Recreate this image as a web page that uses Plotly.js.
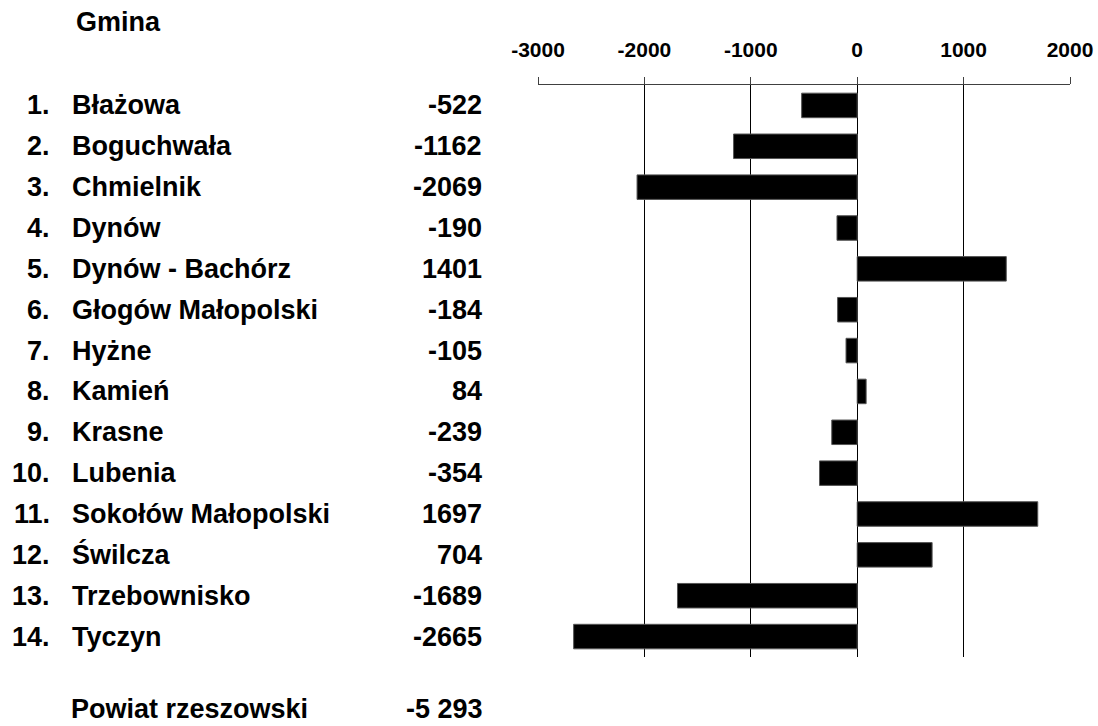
<!DOCTYPE html>
<html>
<head>
<meta charset="utf-8">
<script src="https://cdn.plot.ly/plotly-3.0.1.min.js"></script>
<style>html,body{margin:0;padding:0;background:#fff;}#chart{width:1098px;height:726px;}</style>
</head>
<body>
<div id="chart"></div>
<script>
const ranks = ["1.", "2.", "3.", "4.", "5.", "6.", "7.", "8.", "9.", "10.", "11.", "12.", "13.", "14."];
const gminy = ["Błażowa", "Boguchwała", "Chmielnik", "Dynów", "Dynów - Bachórz", "Głogów Małopolski",
  "Hyżne", "Kamień", "Krasne", "Lubenia", "Sokołów Małopolski", "Świlcza", "Trzebownisko", "Tyczyn"];
const values = [-522, -1162, -2069, -190, 1401, -184, -105, 84, -239, -354, 1697, 704, -1689, -2665];
const headerLabel = "Gmina";
const totalLabel = "Powiat rzeszowski";
const totalValue = "-5 293";
const tickVals = [-3000, -2000, -1000, 0, 1000, 2000];
const gridVals = [-2000, -1000, 0, 1000];

const font = {family: "Liberation Sans, Arial, sans-serif", size: 27, color: "#000", weight: "bold"};
const W = 532, L = 538, H = 572, T = 85;
const px = p => (p - L) / W;
const py = p => (T + H - p) / H;

const annotations = [];
gminy.forEach((g, i) => {
  annotations.push({xref: "paper", yref: "y", x: px(52), y: g, text: ranks[i], showarrow: false, xanchor: "right", yanchor: "middle", font});
  annotations.push({xref: "paper", yref: "y", x: px(70), y: g, text: g, showarrow: false, xanchor: "left", yanchor: "middle", font});
  annotations.push({xref: "paper", yref: "y", x: px(484), y: g, text: String(values[i]), showarrow: false, xanchor: "right", yanchor: "middle", font});
});
annotations.push({xref: "paper", yref: "paper", x: px(74), y: py(22), text: headerLabel, showarrow: false, xanchor: "left", yanchor: "middle", font});
annotations.push({xref: "paper", yref: "paper", x: px(70), y: py(709), text: totalLabel, showarrow: false, xanchor: "left", yanchor: "middle", font, borderpad: 0});
annotations.push({xref: "paper", yref: "paper", x: px(484), y: py(709), text: totalValue, showarrow: false, xanchor: "right", yanchor: "middle", font, borderpad: 0});

const data = [{
  type: "bar", orientation: "h", x: values, y: gminy,
  marker: {color: "#000", line: {color: "#555", width: 1}},
  width: 0.6, hoverinfo: "skip"
}, {
  type: "scatter", mode: "none", x: [null], y: [null], xaxis: "x2", hoverinfo: "skip", showlegend: false
}];

const layout = {
  width: 1098, height: 726,
  margin: {l: L, r: 1098 - L - W, t: T, b: 726 - T - H},
  paper_bgcolor: "#fff", plot_bgcolor: "#fff",
  showlegend: false,
  bargap: 0.4,
  xaxis: {
    side: "top", range: [-3000, 2000], tickvals: tickVals, ticktext: tickVals.map(String),
    showgrid: false, zeroline: false, showline: true, linecolor: "#404040", linewidth: 1,
    ticks: "outside", ticklen: 7, tickcolor: "#404040", tickwidth: 1,
    ticklabelstandoff: 12,
    tickfont: {family: "Liberation Sans, Arial, sans-serif", size: 21, color: "#000", weight: "bold"},
    fixedrange: true
  },
  xaxis2: {
    overlaying: "x", range: [-3000, 2000], tickvals: gridVals, showticklabels: false,
    showgrid: true, gridcolor: "#000", gridwidth: 1, zeroline: false, showline: false, ticks: "",
    fixedrange: true
  },
  yaxis: {
    type: "category", categoryorder: "array", categoryarray: gminy, autorange: "reversed",
    showticklabels: false, showgrid: false, zeroline: false, showline: false, ticks: "",
    fixedrange: true
  },
  annotations
};

Plotly.newPlot("chart", data, layout, {displayModeBar: false, staticPlot: true});
</script>
</body>
</html>
